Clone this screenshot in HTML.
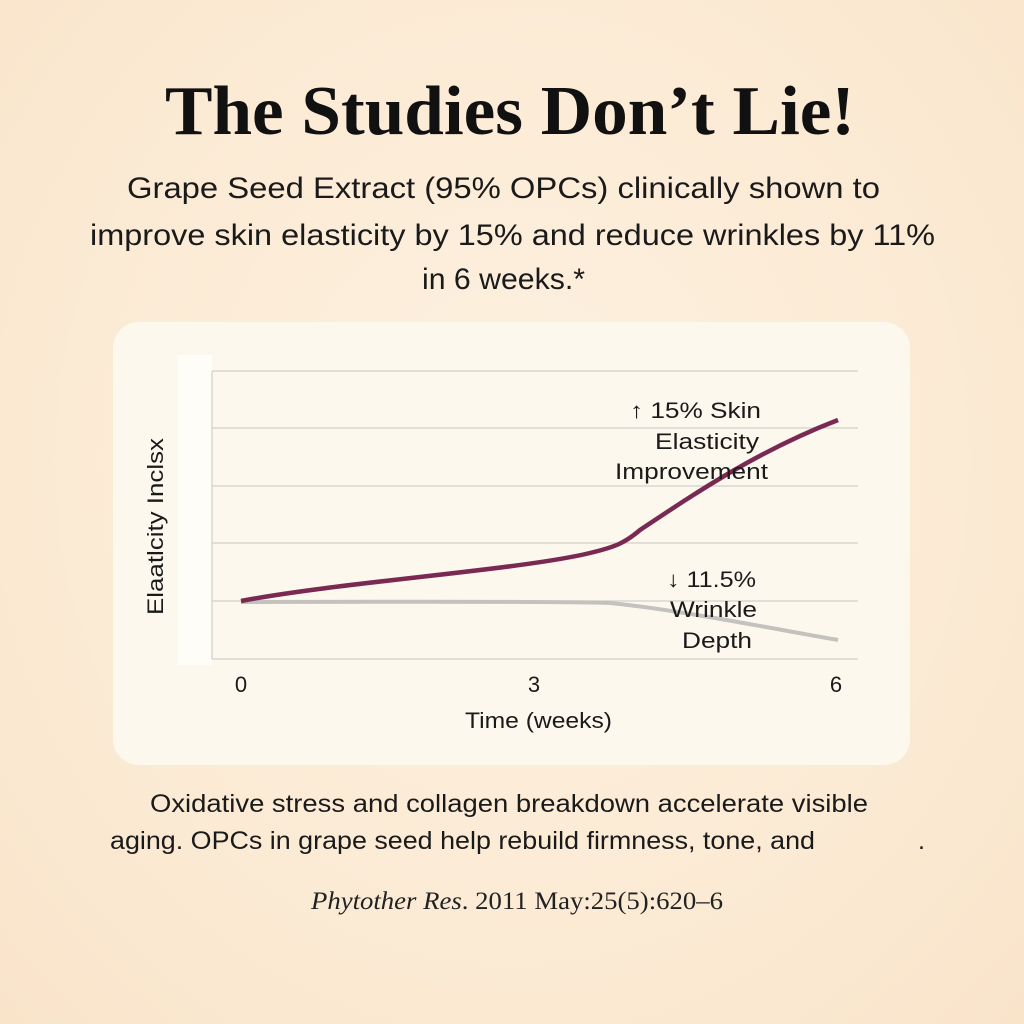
<!DOCTYPE html>
<html><head><meta charset="utf-8"><style>
html,body{margin:0;padding:0;width:1024px;height:1024px;overflow:hidden;background:#fbead4;}
body{background:radial-gradient(ellipse at 50% 45%,#fdf1e0 0%,#fbe9d2 70%,#f9e4ca 100%);}
</style></head><body>
<svg width="1024" height="1024" viewBox="0 0 1024 1024" xmlns="http://www.w3.org/2000/svg" style="position:absolute;left:0;top:0">
<text x="165" y="134" textLength="690" lengthAdjust="spacingAndGlyphs" font-family="Liberation Serif, serif" font-weight="bold" font-size="70" fill="#111">The Studies Don’t Lie!</text>
<g font-family="Liberation Sans, sans-serif" font-size="30" fill="#1a1a1a">
<text x="127" y="198" textLength="753" lengthAdjust="spacingAndGlyphs">Grape Seed Extract (95% OPCs) clinically shown to</text>
<text x="90" y="245" textLength="845" lengthAdjust="spacingAndGlyphs">improve skin elasticity by 15% and reduce wrinkles by 11%</text>
<text x="422" y="289" textLength="163" lengthAdjust="spacingAndGlyphs">in 6 weeks.*</text>
</g>
<rect x="113" y="322" width="797" height="443" rx="26" fill="#fdf8ee"/>
<rect x="178" y="355" width="34" height="310" fill="#fffdf8"/>
<g stroke="#d3d0cb" stroke-width="1.3">
<line x1="212" y1="371" x2="858" y2="371"/>
<line x1="212" y1="428" x2="858" y2="428"/>
<line x1="212" y1="486" x2="858" y2="486"/>
<line x1="212" y1="543" x2="858" y2="543"/>
<line x1="212" y1="601" x2="858" y2="601"/>
<line x1="212" y1="659" x2="858" y2="659"/>
<line x1="212" y1="371" x2="212" y2="659"/>
</g>
<path d="M241 602 C300 602 560 601 610 603 C680 610 780 630 838 640" fill="none" stroke="#c4c2bf" stroke-width="4"/>
<path d="M241 601 C340 582 520 570 590 553 C615 547 625 543 640 530 C700 490 760 450 838 420" fill="none" stroke="#7a2a52" stroke-width="4.5"/>
<rect x="628" y="398" width="130" height="20" fill="#fdf8ee"/>
<g font-family="Liberation Sans, sans-serif" font-size="22" fill="#1a1a1a">
<text x="630" y="418" textLength="131" lengthAdjust="spacingAndGlyphs">↑ 15% Skin</text>
<text x="655" y="449" textLength="104" lengthAdjust="spacingAndGlyphs">Elasticity</text>
<text x="615" y="479" textLength="153" lengthAdjust="spacingAndGlyphs">Improvement</text>
<text x="667" y="587" textLength="89" lengthAdjust="spacingAndGlyphs">↓ 11.5%</text>
<text x="670" y="617" textLength="87" lengthAdjust="spacingAndGlyphs">Wrinkle</text>
<text x="682" y="648" textLength="70" lengthAdjust="spacingAndGlyphs">Depth</text>
<text x="241" y="692" text-anchor="middle">0</text>
<text x="534" y="692" text-anchor="middle">3</text>
<text x="836" y="692" text-anchor="middle">6</text>
<text x="465" y="728" textLength="147" lengthAdjust="spacingAndGlyphs">Time (weeks)</text>
<text transform="translate(163 615) rotate(-90)" textLength="177" lengthAdjust="spacingAndGlyphs">Elaatlcity Inclsx</text>
</g>
<g font-family="Liberation Sans, sans-serif" font-size="25" fill="#1a1a1a">
<text x="150" y="812" textLength="718" lengthAdjust="spacingAndGlyphs">Oxidative stress and collagen breakdown accelerate visible</text>
<text x="110" y="849" textLength="705" lengthAdjust="spacingAndGlyphs">aging. OPCs in grape seed help rebuild firmness, tone, and</text>
<text x="918" y="849">.</text>
</g>
<text x="311" y="909" textLength="412" lengthAdjust="spacingAndGlyphs" font-family="Liberation Serif, serif" font-size="25" fill="#222"><tspan font-style="italic">Phytother Res</tspan>. 2011 May:25(5):620–6</text>
</svg>
</body></html>
